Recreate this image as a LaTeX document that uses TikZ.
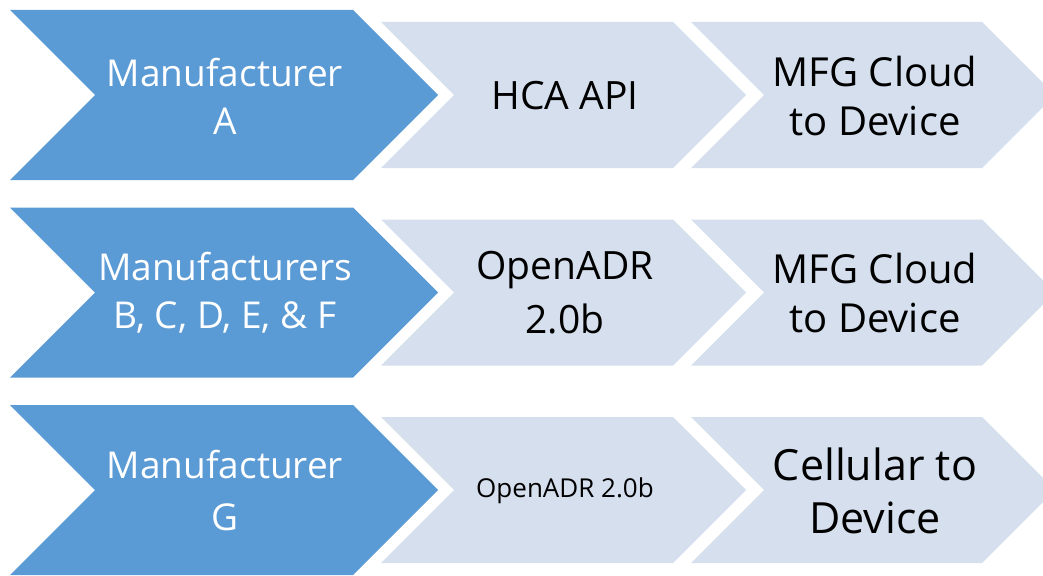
\documentclass[tikz,border=0pt]{standalone}
\usepackage{fontspec}
\setmainfont{Open Sans}
\definecolor{stepdark}{HTML}{5B9BD5}
\definecolor{steplight}{HTML}{D5DFED}
% chevron: fill, left x, body right x, centre y, half height
\newcommand{\drawchevron}[5]{%
  \fill[#1] (#2,#4-#5) -- (#3,#4-#5) -- (#3+#5,#4) -- (#3,#4+#5)
    -- (#2,#4+#5) -- (#2+#5,#4) -- cycle;}
\tikzset{
  lead/.style={text=white, align=center, inner sep=0pt},
  stage/.style={text=black, align=center, inner sep=0pt},
}
\begin{document}
\begin{tikzpicture}[x=1pt,y=-1pt]
\useasboundingbox (0,0) rectangle (1043,575);
\begin{scope}
\clip (0,0) rectangle (1043,575);
% row 1
\drawchevron{stepdark}{10}{353}{95}{85}
\drawchevron{steplight}{381}{673}{95}{73}
\drawchevron{steplight}{691}{982}{95}{73}
% row 2
\drawchevron{stepdark}{10}{353}{292.5}{85}
\drawchevron{steplight}{381}{673}{292.5}{73}
\drawchevron{steplight}{691}{982}{292.5}{73}
% row 3
\drawchevron{stepdark}{10}{353}{490}{85}
\drawchevron{steplight}{381}{673}{490}{73}
\drawchevron{steplight}{691}{982}{490}{73}
\end{scope}
% labels
\node[lead, font=\fontsize{37}{48}\selectfont] (m1) at (225,96) {Manufacturer\\A};
\node[stage, font=\fontsize{39}{48}\selectfont] (s1) at (565,96) {HCA API};
\node[stage, font=\fontsize{40}{49}\selectfont] (t1) at (875,96) {MFG Cloud\\to Device};
\node[lead, font=\fontsize{37}{48}\selectfont] (m2) at (225,293) {Manufacturers\\B, C, D, E, \& F};
\node[stage, font=\fontsize{39}{54}\selectfont] (s2) at (565,293) {OpenADR\\2.0b};
\node[stage, font=\fontsize{40}{49}\selectfont] (t2) at (875,293) {MFG Cloud\\to Device};
\node[lead, font=\fontsize{37}{52}\selectfont] (m3) at (225,491) {Manufacturer\\G};
\node[stage, font=\fontsize{26}{30}\selectfont] (s3) at (565,491) {OpenADR 2.0b};
\node[stage, font=\fontsize{43}{53}\selectfont] (t3) at (875,491) {Cellular to\\Device};
\end{tikzpicture}
\end{document}
